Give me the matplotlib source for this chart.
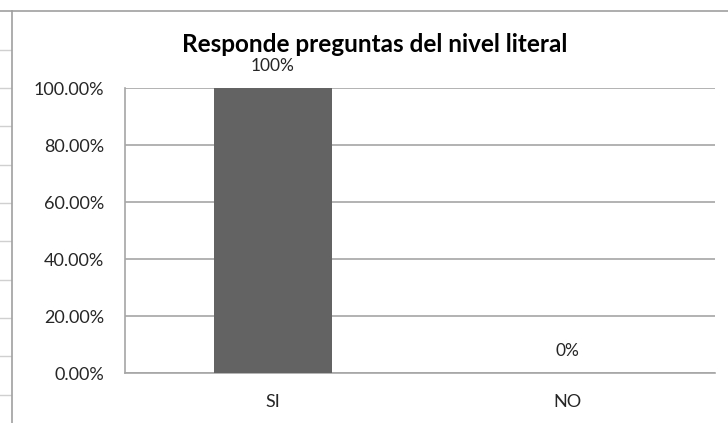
import numpy as np
import matplotlib.pyplot as plt
from matplotlib.lines import Line2D

categories = ['SI', 'NO']
values = [1.0, 0.0]
value_labels = ['100%', '0%']
yticks = [0.0, 0.2, 0.4, 0.6, 0.8, 1.0]

W, H = 728, 423


def main():
	plt.rcParams['font.family'] = ['Lato', 'DejaVu Sans']
	fig = plt.figure(figsize=(W / 100, H / 100), dpi=100)
	fig.patch.set_facecolor('white')

	# spreadsheet cell lines left of the chart + chart border
	for y in [50, 88, 126, 165, 203, 241, 280, 318, 356, 395]:
		fig.add_artist(Line2D([0, 11 / W], [1 - y / H, 1 - y / H], color='#d0d0d0', lw=1))
	fig.add_artist(Line2D([0, 1], [1 - 11 / H, 1 - 11 / H], color='#a0a0a0', lw=1.2))
	fig.add_artist(Line2D([12 / W, 12 / W], [0, 1 - 11 / H], color='#a0a0a0', lw=1.2))

	ax = fig.add_axes([125 / W, 1 - 373 / H, (715 - 125) / W, (373 - 88) / H])
	x = np.arange(len(categories))
	ax.bar(x, values, width=0.4, color='#636363', zorder=3)

	ax.set_xlim(-0.5, 1.5)
	ax.set_ylim(0, 1.0)
	ax.set_yticks(yticks)
	ax.set_yticklabels(['%.2f%%' % (v * 100) for v in yticks], fontsize=13, color='#262626')
	ax.set_xticks(x)
	ax.set_xticklabels(categories, fontsize=13, color='#262626')
	ax.tick_params(length=0)
	ax.tick_params(axis='y', pad=15)
	ax.tick_params(axis='x', pad=15)
	ax.grid(axis='y', color='#a6a6a6', lw=1.2, zorder=0)
	for s in ['top', 'right']:
		ax.spines[s].set_visible(False)
	ax.spines['left'].set_color('#a6a6a6')
	ax.spines['bottom'].set_color('#a6a6a6')
	ax.spines['left'].set_linewidth(1.2)
	ax.spines['bottom'].set_linewidth(1.2)

	for xi, v, lab in zip(x, values, value_labels):
		ax.annotate(lab, (xi, v), xytext=(0, 16), textcoords='offset points',
			ha='center', va='center', fontsize=12.5, color='#262626')

	fig.text(375 / W, 1 - 45 / H, 'Responde preguntas del nivel literal',
		ha='center', va='center', fontsize=17.5, fontweight='bold', color='black')

	fig.savefig('out.png', dpi=100)


if __name__ == '__main__':
	main()
